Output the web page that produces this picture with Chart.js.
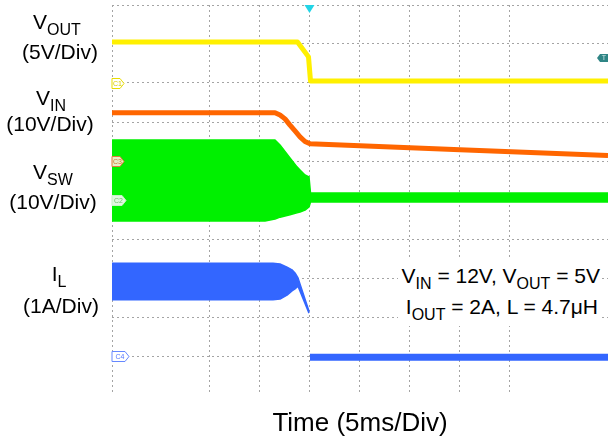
<!DOCTYPE html>
<html>
<head>
<meta charset="utf-8">
<script src="https://cdn.jsdelivr.net/npm/chart.js@4/dist/chart.umd.min.js"></script>
<style>
    html, body { margin: 0; padding: 0; background: #fff; }
    #wrap { position: relative; width: 608px; height: 443px; font-family: "Liberation Sans", Arial, sans-serif; color: #000; }
    #scope { position: absolute; left: 0; top: 0; }
    .lbl { position: absolute; font-size: 21px; line-height: 21px; white-space: nowrap; transform: translateX(-50%); }
    .lbl sub, .note sub { font-size: 16px; line-height: 0; vertical-align: -6px; }
    .note { position: absolute; right: 6px; top: 260px; background: #fff; font-size: 21px; line-height: 31px; text-align: right; padding: 0 2px 4px 4px; white-space: nowrap; }
</style>
</head>
<body>
<div id="wrap">
    <canvas id="scope" width="608" height="443"></canvas>

    <div class="lbl" style="left:57px; top:11px">V<sub>OUT</sub></div>
    <div class="lbl" style="left:60px; top:41px">(5V/Div)</div>
    <div class="lbl" style="left:51px; top:87px">V<sub>IN</sub></div>
    <div class="lbl" style="left:50px; top:113px">(10V/Div)</div>
    <div class="lbl" style="left:53px; top:161px">V<sub>SW</sub></div>
    <div class="lbl" style="left:53px; top:191px">(10V/Div)</div>
    <div class="lbl" style="left:59px; top:263px">I<sub>L</sub></div>
    <div class="lbl" style="left:61px; top:295px">(1A/Div)</div>

    <div class="note">
        V<sub>IN</sub> = 12V, V<sub>OUT</sub> = 5V<br>
        <span style="padding-right:2px">I<sub>OUT</sub> = 2A, L = 4.7μH</span>
    </div>
</div>

<script>
// time in ms (trigger at 0), level in divisions (0 = bottom of screen)

// V_OUT
const voutT = [-19.75, -1.2, -0.1, 0.1, 29.85];
const voutY = [9.05, 9.05, 8.67, 8.05, 8.05];

// V_IN
const vinT = [-19.75, -3.45, -2.95, -2.45, -1.95, -1.45, -0.95, -0.45, 0.05, 15.05, 29.85];
const vinY = [7.24, 7.24, 7.18, 7.08, 6.92, 6.77, 6.62, 6.50, 6.44, 6.29, 6.14];

// V_SW switching envelope (top and bottom edge)
const vswT = [-19.75, -4.45, -3.45, -2.95, -1.95, -1.25, -0.95, -0.45, -0.05, 0.1, 29.85];
const vswHi = [6.54, 6.54, 6.54, 6.41, 6.08, 5.85, 5.77, 5.64, 5.59, 5.18, 5.18];
const vswLo = [4.46, 4.46, 4.51, 4.56, 4.62, 4.67, 4.69, 4.74, 4.82, 4.95, 4.95];

// I_L ripple envelope before shutdown, then flat after
const ilT = [-19.75, -3.65, -2.95, -2.25, -1.75, -1.45, -1.15, -0.05];
const ilHi = [3.38, 3.38, 3.36, 3.28, 3.21, 3.13, 3.00, 2.15];
const ilLo = [2.44, 2.44, 2.46, 2.56, 2.67, 2.72, 2.79, 2.10];
const ilAfterT = [0.05, 29.85];
const ilAfterY = [0.97, 0.97];

// channel tags on the left edge, trigger marks
const chanTags = [
    { name: "C1", level: 8 },
    { name: "C3", level: 6 },
    { name: "C2", level: 5 },
    { name: "C4", level: 1 }
];
const trigTime = 0;
const trigLevel = 8.64;

const tagStyle = {
    C1: { stroke: "#e8dc00", fill: "#ffffff", text: "#d8cc00", w: 12 },
    C3: { stroke: "#e07a3a", fill: "#e8f0c8", text: "#d07030", w: 12 },
    C2: { stroke: "#c8f0c8", fill: "#e0f8e0", text: "#70c070", w: 14 },
    C4: { stroke: "#6688ff", fill: "#ffffff", text: "#5577ff", w: 17 }
};

function pts(t, y) {
    return t.map((v, i) => ({ x: v, y: y[i] }));
}

const markerPlugin = {
    id: "scopeMarks",
    afterDatasetsDraw(chart) {
        const ctx = chart.ctx;
        const xs = chart.scales.x;
        const ys = chart.scales.y;
        const left = chart.chartArea.left;
        const right = chart.chartArea.right;
        const top = chart.chartArea.top;

        ctx.save();
        ctx.font = "7px 'Liberation Sans', Arial";
        ctx.textBaseline = "middle";
        ctx.textAlign = "center";

        chanTags.forEach(tag => {
            const s = tagStyle[tag.name];
            const y = Math.round(ys.getPixelForValue(tag.level)) + 0.5;
            ctx.beginPath();
            ctx.moveTo(left, y - 5);
            ctx.lineTo(left + s.w - 4, y - 5);
            ctx.lineTo(left + s.w, y);
            ctx.lineTo(left + s.w - 4, y + 5);
            ctx.lineTo(left, y + 5);
            ctx.closePath();
            ctx.fillStyle = s.fill;
            ctx.fill();
            ctx.strokeStyle = s.stroke;
            ctx.lineWidth = 1;
            ctx.stroke();
            ctx.fillStyle = s.text;
            ctx.fillText(tag.name, left + (s.w - 3) / 2 + 1, y + 0.5);
        });

        // trigger position (top)
        const tx = xs.getPixelForValue(trigTime);
        ctx.beginPath();
        ctx.moveTo(tx - 5, top);
        ctx.lineTo(tx + 5, top);
        ctx.lineTo(tx, top + 8);
        ctx.closePath();
        ctx.fillStyle = "#22d4e6";
        ctx.fill();

        // trigger level (right edge)
        const ty = ys.getPixelForValue(trigLevel);
        ctx.beginPath();
        ctx.moveTo(right - 11, ty);
        ctx.lineTo(right - 8, ty - 4);
        ctx.lineTo(right, ty - 4);
        ctx.lineTo(right, ty + 4);
        ctx.lineTo(right - 8, ty + 4);
        ctx.closePath();
        ctx.fillStyle = "#2f8585";
        ctx.fill();
        ctx.fillStyle = "#cfe8e8";
        ctx.fillText("T", right - 4, ty + 0.5);
        ctx.restore();
    }
};

Chart.defaults.font.family = "'Liberation Sans', Arial, sans-serif";

const gridColor = "#a4a4a4";

new Chart(document.getElementById("scope"), {
    type: "scatter",
    data: {
        datasets: [
            {
                label: "VSW hi",
                data: pts(vswT, vswHi),
                borderColor: "#00f000",
                borderWidth: 1.5
            },
            {
                label: "VSW lo",
                data: pts(vswT, vswLo),
                borderColor: "#00f000",
                backgroundColor: "#00f000",
                borderWidth: 1.5,
                fill: "-1"
            },
            {
                label: "IL hi",
                data: pts(ilT, ilHi),
                borderColor: "#3366ff",
                borderWidth: 1.5
            },
            {
                label: "IL lo",
                data: pts(ilT, ilLo),
                borderColor: "#3366ff",
                backgroundColor: "#3366ff",
                borderWidth: 1.5,
                fill: "-1"
            },
            {
                label: "IL after",
                data: pts(ilAfterT, ilAfterY),
                borderColor: "#3366ff",
                borderWidth: 7
            },
            {
                label: "VIN",
                data: pts(vinT, vinY),
                borderColor: "#ff6600",
                borderWidth: 5
            },
            {
                label: "VOUT",
                data: pts(voutT, voutY),
                borderColor: "#fff000",
                borderWidth: 5
            }
        ]
    },
    options: {
        responsive: false,
        animation: false,
        showLine: true,
        elements: {
            point: { radius: 0, hoverRadius: 0 },
            line: { tension: 0, borderCapStyle: "butt", borderJoinStyle: "round" }
        },
        layout: {
            padding: { left: 112, right: 0, top: 5, bottom: 0 }
        },
        plugins: {
            legend: { display: false },
            tooltip: { enabled: false }
        },
        scales: {
            x: {
                type: "linear",
                min: -19.75,
                max: 29.85,
                ticks: { display: false, stepSize: 5 },
                grid: { color: gridColor, lineWidth: 1, drawTicks: false },
                border: { display: false, dash: [2, 3] },
                title: {
                    display: true,
                    text: "Time (5ms/Div)",
                    color: "#000",
                    font: { size: 26, lineHeight: "30px" },
                    padding: { top: 14, bottom: 4 }
                }
            },
            y: {
                type: "linear",
                min: 0,
                max: 10,
                ticks: { display: false, stepSize: 1 },
                grid: {
                    color: c => (c.tick && c.tick.value === 0) ? "rgba(0,0,0,0)" : gridColor,
                    lineWidth: 1,
                    drawTicks: false
                },
                border: { display: false, dash: [2, 3] }
            }
        }
    },
    plugins: [markerPlugin]
});
</script>
</body>
</html>
